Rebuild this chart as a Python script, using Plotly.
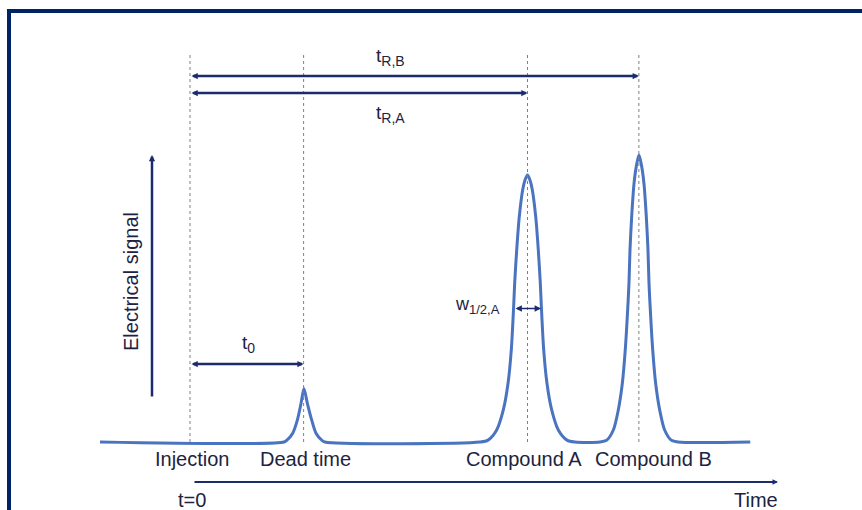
import plotly.graph_objects as go

# ---------------- data ----------------
# chromatogram trace: time (arbitrary units, injection = 0) and detector signal
trace_time = [
    -0.80, 0.836, 0.862, 0.913, 0.954, 0.987, 1.013, 1.043, 1.082, 1.120, 1.171, 1.200,
    2.578, 2.649, 2.726, 2.785, 2.827, 2.856, 2.877, 2.886, 2.904, 2.927, 2.957, 2.978,
    3.000,
    3.022, 3.043, 3.073, 3.096, 3.114, 3.123, 3.144, 3.173, 3.215, 3.274, 3.351, 3.422,
    3.644, 3.704, 3.763, 3.807, 3.843, 3.869, 3.887, 3.902, 3.911, 3.926, 3.947, 3.969,
    3.991,
    4.013, 4.035, 4.056, 4.071, 4.080, 4.095, 4.113, 4.139, 4.175, 4.219, 4.278, 4.338,
    4.98,
]
trace_signal = [
    0.0, 0.0, 0.007, 0.033, 0.082, 0.145, 0.199, 0.145, 0.082, 0.033, 0.007, 0.0,
    0.0, 0.007, 0.045, 0.120, 0.220, 0.345, 0.509, 0.594, 0.719, 0.844, 0.944, 0.981,
    1.000,
    0.981, 0.944, 0.844, 0.719, 0.594, 0.509, 0.345, 0.220, 0.120, 0.045, 0.007, 0.0,
    0.0, 0.007, 0.045, 0.120, 0.220, 0.345, 0.469, 0.594, 0.719, 0.844, 0.969, 1.037,
    1.075,
    1.037, 0.969, 0.844, 0.719, 0.594, 0.469, 0.345, 0.220, 0.120, 0.045, 0.007, 0.0,
    0.0,
]

event_labels = ["Injection", "Dead time", "Compound A", "Compound B"]
event_times = [0.0, 1.01, 3.0, 3.99]
peak_heights = [0.0, 0.199, 1.0, 1.075]
fwhm_A = 0.24

# ---------------- layout helpers (pixel -> axis units) ----------------
W, H = 862, 510
X0_PX, PX_PER_T = 190.0, 112.5
BASE_PX, PX_PER_S = 442.0, 267.0


def xd(px):
    return (px - X0_PX) / PX_PER_T


def yd(py):
    return (BASE_PX - py) / PX_PER_S


NAVY = "#1c2b6e"
FRAME = "#002266"
CURVE = "#4a74bf"
TEXT = "#1d2340"
FONT = "Liberation Sans, Arial, sans-serif"

fig = go.Figure()
fig.add_trace(go.Scatter(
    x=trace_time, y=trace_signal, mode="lines",
    line=dict(color=CURVE, width=3, shape="spline", smoothing=0.8),
    hoverinfo="skip", showlegend=False,
))

shapes = []
# dotted reference lines at each event
for t in event_times:
    shapes.append(dict(type="line", xref="x", yref="y", x0=t, x1=t, y0=0, y1=yd(52),
                       line=dict(color="#808080", width=1, dash="dot")))
# frame (top and left edges)
shapes.append(dict(type="line", xref="paper", yref="paper", x0=7 / W, x1=1.0,
                   y0=1 - 11 / H, y1=1 - 11 / H, line=dict(color=FRAME, width=4)))
shapes.append(dict(type="line", xref="paper", yref="paper", x0=9 / W, x1=9 / W,
                   y0=0, y1=1 - 9 / H, line=dict(color=FRAME, width=4)))

ann = []


def arrow(x_head, y_head, x_tail, y_tail, side="end+start", width=2.5, size=0.5):
    ann.append(dict(x=x_head, y=y_head, ax=x_tail, ay=y_tail, xref="x", yref="y",
                    axref="x", ayref="y", text="", showarrow=True, arrowhead=2,
                    startarrowhead=2, arrowsize=size, startarrowsize=size,
                    arrowwidth=width, arrowcolor=NAVY, arrowside=side,
                    standoff=0, startstandoff=0))


def label(x, y, text, size=20, angle=0, xshift=0):
    ann.append(dict(x=x, y=y, xref="x", yref="y", text=text, showarrow=False,
                    textangle=angle, xshift=xshift,
                    font=dict(family=FONT, size=size, color=TEXT)))


t_inj, t_dead, t_A, t_B = event_times
# retention-time arrows
arrow(t_B, yd(76), t_inj, yd(76))
arrow(t_A, yd(93), t_inj, yd(93))
arrow(t_dead, yd(364), t_inj, yd(364))
# half-height width of peak A
arrow(t_A + fwhm_A / 2, peak_heights[2] / 2, t_A - fwhm_A / 2, peak_heights[2] / 2,
      width=1.6, size=0.8)
# signal axis arrow
arrow(xd(152), yd(155), xd(152), yd(398), side="end")
# time axis arrow
arrow(xd(778), yd(482), xd(193), yd(482), side="end", width=2.2)

SUB = "<sub><span style='font-size:14px'>%s</span></sub>"
label(xd(390), yd(57), "t" + SUB % "R,B", size=19)
label(xd(390), yd(114), "t" + SUB % "R,A", size=19)
label(xd(248), yd(344), "t" + SUB % "0", size=19)
label(xd(477), yd(305), "w" + "<sub><span style='font-size:13px'>1/2,A</span></sub>", size=18)
label(xd(131), yd(282), "Electrical signal", size=20, angle=-90)

for name, t, dx in zip(event_labels, event_times, [2, 2, -4, 15]):
    label(t, yd(459), name, size=20, xshift=dx)

label(xd(192), yd(500), "t=0", size=20)
label(xd(756), yd(500), "Time", size=20)

fig.update_layout(
    width=W, height=H, margin=dict(l=0, r=0, t=0, b=0),
    paper_bgcolor="white", plot_bgcolor="white",
    xaxis=dict(range=[xd(0), xd(W)], visible=False, fixedrange=True),
    yaxis=dict(range=[yd(H), yd(0)], visible=False, fixedrange=True),
    shapes=shapes, annotations=ann, showlegend=False,
)

fig.write_html(
    "out.html",
    config={"displayModeBar": False},
    post_script="document.body.style.margin='0';document.body.style.overflow='hidden';",
)
